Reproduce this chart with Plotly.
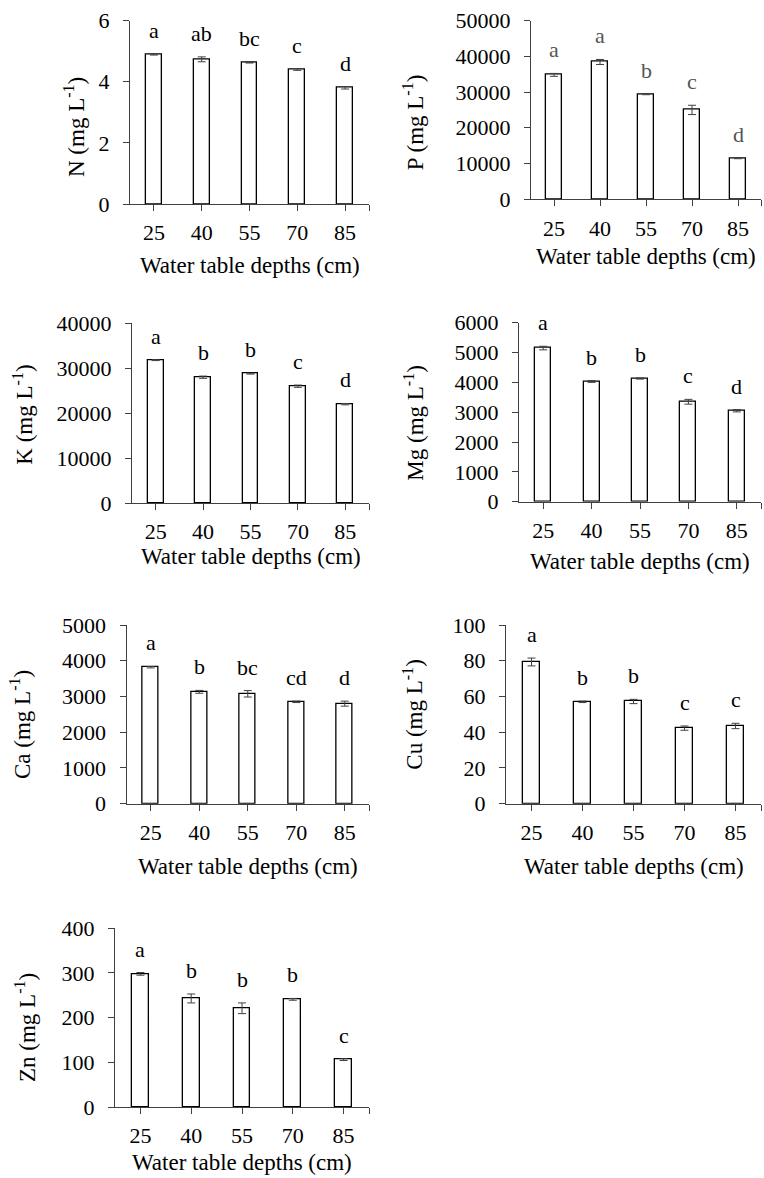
import plotly.graph_objects as go

# ---------------- data ----------------
depths = ["25", "40", "55", "70", "85"]
x_title = "Water table depths (cm)"

N_mean = [4.89, 4.73, 4.62, 4.40, 3.80]
N_err = [0.02, 0.08, 0.01, 0.03, 0.04]
N_let = ["a", "ab", "bc", "c", "d"]

P_mean = [34800, 38400, 29400, 25000, 11500]
P_err = [400, 700, 150, 1300, 150]
P_let = ["a", "a", "b", "c", "d"]

K_mean = [31800, 28000, 28800, 26000, 22000]
K_err = [100, 250, 100, 250, 150]
K_let = ["a", "b", "b", "c", "d"]

Mg_mean = [5150, 4030, 4130, 3350, 3050]
Mg_err = [60, 30, 20, 80, 40]
Mg_let = ["a", "b", "b", "c", "d"]

Ca_mean = [3820, 3130, 3075, 2850, 2800]
Ca_err = [20, 40, 90, 20, 70]
Ca_let = ["a", "b", "bc", "cd", "d"]

Cu_mean = [79.3, 57.0, 57.2, 42.3, 43.5]
Cu_err = [2.2, 0.4, 1.2, 1.2, 1.5]
Cu_let = ["a", "b", "b", "c", "c"]

Zn_mean = [298, 243, 221, 241, 106]
Zn_err = [3, 10, 12, 2, 2]
Zn_let = ["a", "b", "b", "b", "c"]

# ---------------- layout spec (pixels) ----------------
W, H = 764, 1178
FONT = "Liberation Serif"
FS = 22
FT = 23

panels = [
    dict(name="N", mean=N_mean, err=N_err, let=N_let, ymax=6, dtick=2,
         x0=130, x1=369, yt=20.5, yb=204, tx=75, ty=127, xt=61, letcol="#000000"),
    dict(name="P", mean=P_mean, err=P_err, let=P_let, ymax=50000, dtick=10000,
         x0=531, x1=761, yt=20.5, yb=199.3, tx=413.7, ty=122.5, xt=57, letcol="#555555"),
    dict(name="K", mean=K_mean, err=K_err, let=K_let, ymax=40000, dtick=10000,
         x0=132, x1=369, yt=323.3, yb=503, tx=22.7, ty=415, xt=53, letcol="#000000"),
    dict(name="Mg", mean=Mg_mean, err=Mg_err, let=Mg_let, ymax=6000, dtick=1000,
         x0=519, x1=761, yt=322.7, yb=501.7, tx=413.7, ty=423, xt=60, letcol="#000000"),
    dict(name="Ca", mean=Ca_mean, err=Ca_err, let=Ca_let, ymax=5000, dtick=1000,
         x0=126.5, x1=369, yt=625, yb=803.7, tx=20, ty=725, xt=63, letcol="#000000"),
    dict(name="Cu", mean=Cu_mean, err=Cu_err, let=Cu_let, ymax=100, dtick=20,
         x0=506, x1=761, yt=625, yb=803.7, tx=413.7, ty=714, xt=63, letcol="#000000"),
    dict(name="Zn", mean=Zn_mean, err=Zn_err, let=Zn_let, ymax=400, dtick=100,
         x0=115, x1=369, yt=928.3, yb=1107, tx=25, ty=1028, xt=55, letcol="#000000"),
]

AX = "#404040"
XL, XR = -0.5, 4.5
fig = go.Figure()
annotations = []
xs = list(range(len(depths)))

for i, p in enumerate(panels, start=1):
    xa = "x" if i == 1 else f"x{i}"
    ya = "y" if i == 1 else f"y{i}"
    fig.add_trace(go.Bar(
        x=xs, y=p["mean"], xaxis=xa, yaxis=ya, width=0.33,
        marker=dict(color="white", line=dict(color="black", width=1.3)),
        error_y=dict(type="data", array=p["err"], visible=True,
                     color=AX, thickness=1, width=4),
        showlegend=False, hoverinfo="skip",
    ))
    xkey = "xaxis" if i == 1 else f"xaxis{i}"
    ykey = "yaxis" if i == 1 else f"yaxis{i}"
    fig.update_layout(**{
        xkey: dict(
            domain=[p["x0"] / W, p["x1"] / W], anchor=ya, automargin=False,
            range=[XL, XR],
            tickmode="array", tickvals=xs, ticktext=depths,
            ticks="outside", ticklen=6, tickwidth=1, tickcolor=AX,
            minor=dict(tickmode="array", tickvals=[XR], ticks="outside",
                       ticklen=6, tickwidth=1, tickcolor=AX, showgrid=False),
            showline=True, linecolor=AX, linewidth=1,
            showgrid=False, zeroline=False, fixedrange=True,
            tickfont=dict(family=FONT, size=FS, color="black"),
            ticklabelstandoff=3,
        ),
        ykey: dict(
            domain=[1 - p["yb"] / H, 1 - p["yt"] / H], anchor=xa, automargin=False,
            range=[0, p["ymax"]], tickmode="linear", tick0=0, dtick=p["dtick"],
            tickformat="d",
            ticks="outside", ticklen=6, tickwidth=1, tickcolor=AX,
            showline=True, linecolor=AX, linewidth=1,
            showgrid=False, zeroline=False, fixedrange=True,
            tickfont=dict(family=FONT, size=FS, color="black"),
            ticklabelstandoff=9,
        ),
    })
    # significance letters
    for xi, (m, e, l) in enumerate(zip(p["mean"], p["err"], p["let"])):
        annotations.append(dict(
            x=xi, y=m + e, xref=xa, yref=ya, text=l, showarrow=False,
            yanchor="bottom", xanchor="center", yshift=9,
            font=dict(family=FONT, size=FS, color=p["letcol"]),
        ))
    # x-axis title
    annotations.append(dict(
        x=2, y=0, xref=xa, yref=f"{ya} domain", text=x_title, showarrow=False,
        yanchor="middle", xanchor="center", yshift=-p["xt"],
        font=dict(family=FONT, size=FT, color="black"),
    ))
    # y-axis title
    annotations.append(dict(
        x=p["tx"] / W, y=1 - p["ty"] / H, xref="paper", yref="paper",
        text=f"{p['name']} (mg L<sup>-1</sup>)", showarrow=False, textangle=-90,
        xanchor="center", yanchor="middle",
        font=dict(family=FONT, size=FT, color="black"),
    ))

fig.update_layout(
    template="none",
    width=W, height=H, margin=dict(l=0, r=0, t=0, b=0, pad=0, autoexpand=False),
    paper_bgcolor="white", plot_bgcolor="white",
    annotations=annotations, bargap=0,
)

fig.write_html("out.html", config={"displayModeBar": False})
